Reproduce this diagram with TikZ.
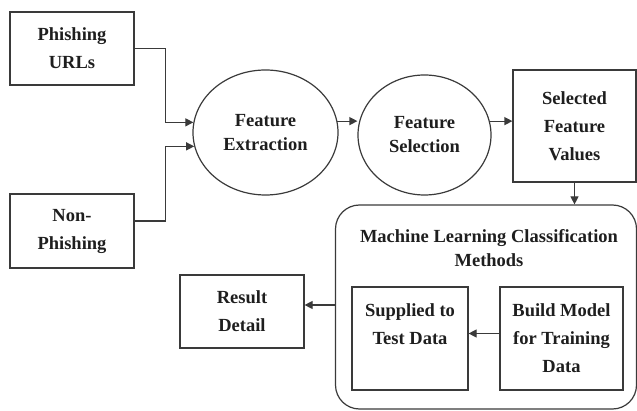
\documentclass[tikz,border=0pt]{standalone}
\usepackage{fontspec}
\setmainfont{Liberation Serif}
\usetikzlibrary{shapes.geometric,arrows.meta,calc}
\definecolor{ln}{HTML}{3A3A3A}
\definecolor{tx}{HTML}{1E1E1E}
\tikzset{
  base/.style={draw=ln,line width=1.2pt,text=tx,font=\fontsize{18.5}{28}\selectfont\bfseries,align=center,inner sep=0pt},
  box/.style={base,rectangle},
  oval/.style={base,ellipse,font=\fontsize{18.5}{24}\selectfont\bfseries},
  arr/.style={draw=ln,line width=1.2pt,-{Triangle[length=8pt,width=8pt]}},
  plain/.style={draw=ln,line width=1.2pt}
}
\begin{document}
\begin{tikzpicture}[x=1pt,y=-1pt]
\useasboundingbox (0,0) rectangle (637,411);
\node[box,minimum width=124pt,minimum height=73pt] (pu) at (72,48.5) {Phishing\\URLs};
\node[box,minimum width=124pt,minimum height=74pt] (np) at (72,231) {Non-\\Phishing};
\node[oval,minimum width=145pt,minimum height=125pt] (fe) at (265.5,132.5) {Feature\\Extraction};
\node[oval,minimum width=133pt,minimum height=120pt] (fs) at (424.5,135) {Feature\\Selection};
\node[box,minimum width=123pt,minimum height=112pt] (sfv) at (574.5,126) {Selected\\Feature\\Values};
\node[box,rounded corners=24pt,minimum width=301pt,minimum height=204pt] (ml) at (486,307) {};
\node[base,draw=none,font=\fontsize{18.5}{24}\selectfont\bfseries] (mlt) at (489,248) {Machine Learning Classification\\Methods};
\node[box,minimum width=124pt,minimum height=73pt] (rd) at (242,311.5) {Result\\Detail};
\node[box,minimum width=116pt,minimum height=103pt] (st) at (410,338.5) {Supplied to\\Test Data\\\mbox{}};
\node[box,minimum width=123pt,minimum height=103pt] (bm) at (561.5,338.5) {Build Model\\for Training\\Data};
\draw[arr] (pu.east) -- ++(31,0) |- (fe.172);
\draw[arr] ([yshift=10pt]np.east) -- ++(31,0) |- (fe.191);
\draw[arr] (fe.9) -- (fe.9 -| fs.west);
\draw[arr] (fs.12) -- (fs.12 -| sfv.west);
\draw[arr] (sfv.south) -- (sfv.south |- ml.north);
\draw[arr] ([yshift=2pt]ml.west) -- ([yshift=2pt]ml.west -| rd.east);
\draw[arr] ([yshift=5pt]bm.west) -- ([yshift=5pt]bm.west -| st.east);
\end{tikzpicture}
\end{document}
